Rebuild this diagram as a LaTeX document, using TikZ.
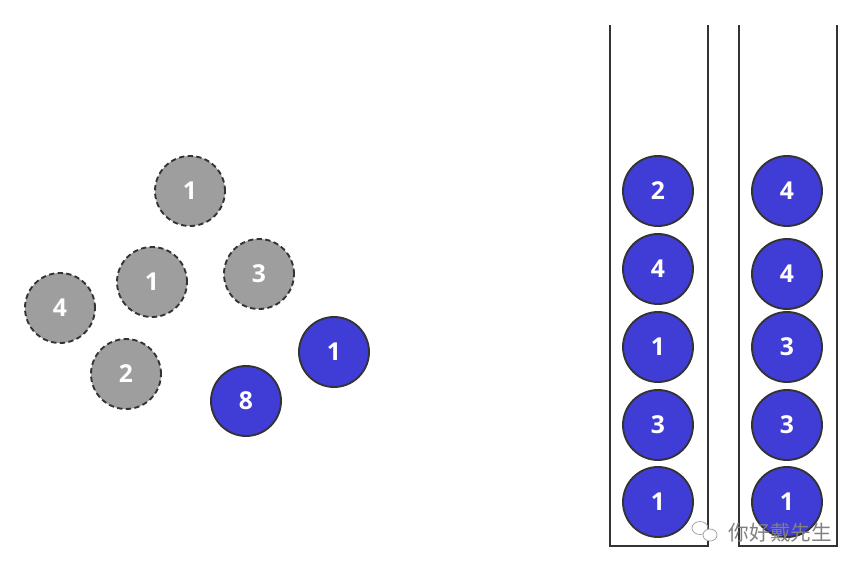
\documentclass[tikz,border=0pt]{standalone}
\usepackage{fontspec}
\setmainfont{Open Sans}
\newfontfamily\cjk{Noto Sans CJK SC}
\usepackage{xcolor}
\usepackage{tikz}
\definecolor{ballblue}{RGB}{64,60,214}
\definecolor{ballgray}{RGB}{158,158,158}
\definecolor{edgegray}{RGB}{51,51,51}
\tikzset{
  ball/.style={circle, draw=edgegray, line width=1.4pt, minimum size=52.5pt, inner sep=0pt,
    text=white, font=\fontsize{18.5}{20}\selectfont\bfseries},
  oldball/.style={ball, fill=ballgray, dashed, dash pattern=on 4pt off 2.5pt},
  newball/.style={ball, fill=ballblue},
  tube/.style={draw=edgegray, line width=1.6pt}
}

\begin{document}
\begin{tikzpicture}[x=0.75pt, y=-0.75pt]
  \useasboundingbox (0,0) rectangle (861,571);

  % loose balls
  \draw node[oldball] (g1) at (190,191) {1};
  \draw node[oldball] (g2) at (152,282) {1};
  \draw node[oldball] (g3) at (259,274) {3};
  \draw node[oldball] (g4) at (60,308) {4};
  \draw node[oldball] (g5) at (126,374) {2};
  \draw node[newball] (b1) at (334,352) {1};
  \draw node[newball] (b2) at (246,401) {8};

  % tubes
  \coordinate (ltl) at (610,25);
  \coordinate (lbl) at (610,546);
  \coordinate (lbr) at (708,546);
  \coordinate (ltr) at (708,25);
  \draw[tube] (ltl)--(lbl)--(lbr)--(ltr);
  \coordinate (rtl) at (739,25);
  \coordinate (rbl) at (739,546);
  \coordinate (rbr) at (837,546);
  \coordinate (rtr) at (837,25);
  \draw[tube] (rtl)--(rbl)--(rbr)--(rtr);

  \begin{scope}[every node/.style={newball}]
  \draw node (a1) at (658,191) {2};
  \draw node (a2) at (658,269) {4};
  \draw node (a3) at (658,347) {1};
  \draw node (a4) at (658,425) {3};
  \draw node (a5) at (658,502) {1};
  \draw node (c1) at (787,191) {4};
  \draw node (c2) at (787,274) {4};
  \draw node (c3) at (787,347) {3};
  \draw node (c4) at (787,425) {3};
  \draw node (c5) at (787,502) {1};
  \end{scope}

  % watermark
  \draw[gray!70, line width=0.6pt] (700,528) ellipse (8 and 6.5);
  \draw[gray!70, fill=white, line width=0.6pt] (710,535) ellipse (7 and 6);
  \draw node[text=gray, font=\cjk\fontsize{15.5}{17}\selectfont, anchor=west] (wm) at (724,533) {你好戴先生};
\end{tikzpicture}
\end{document}
